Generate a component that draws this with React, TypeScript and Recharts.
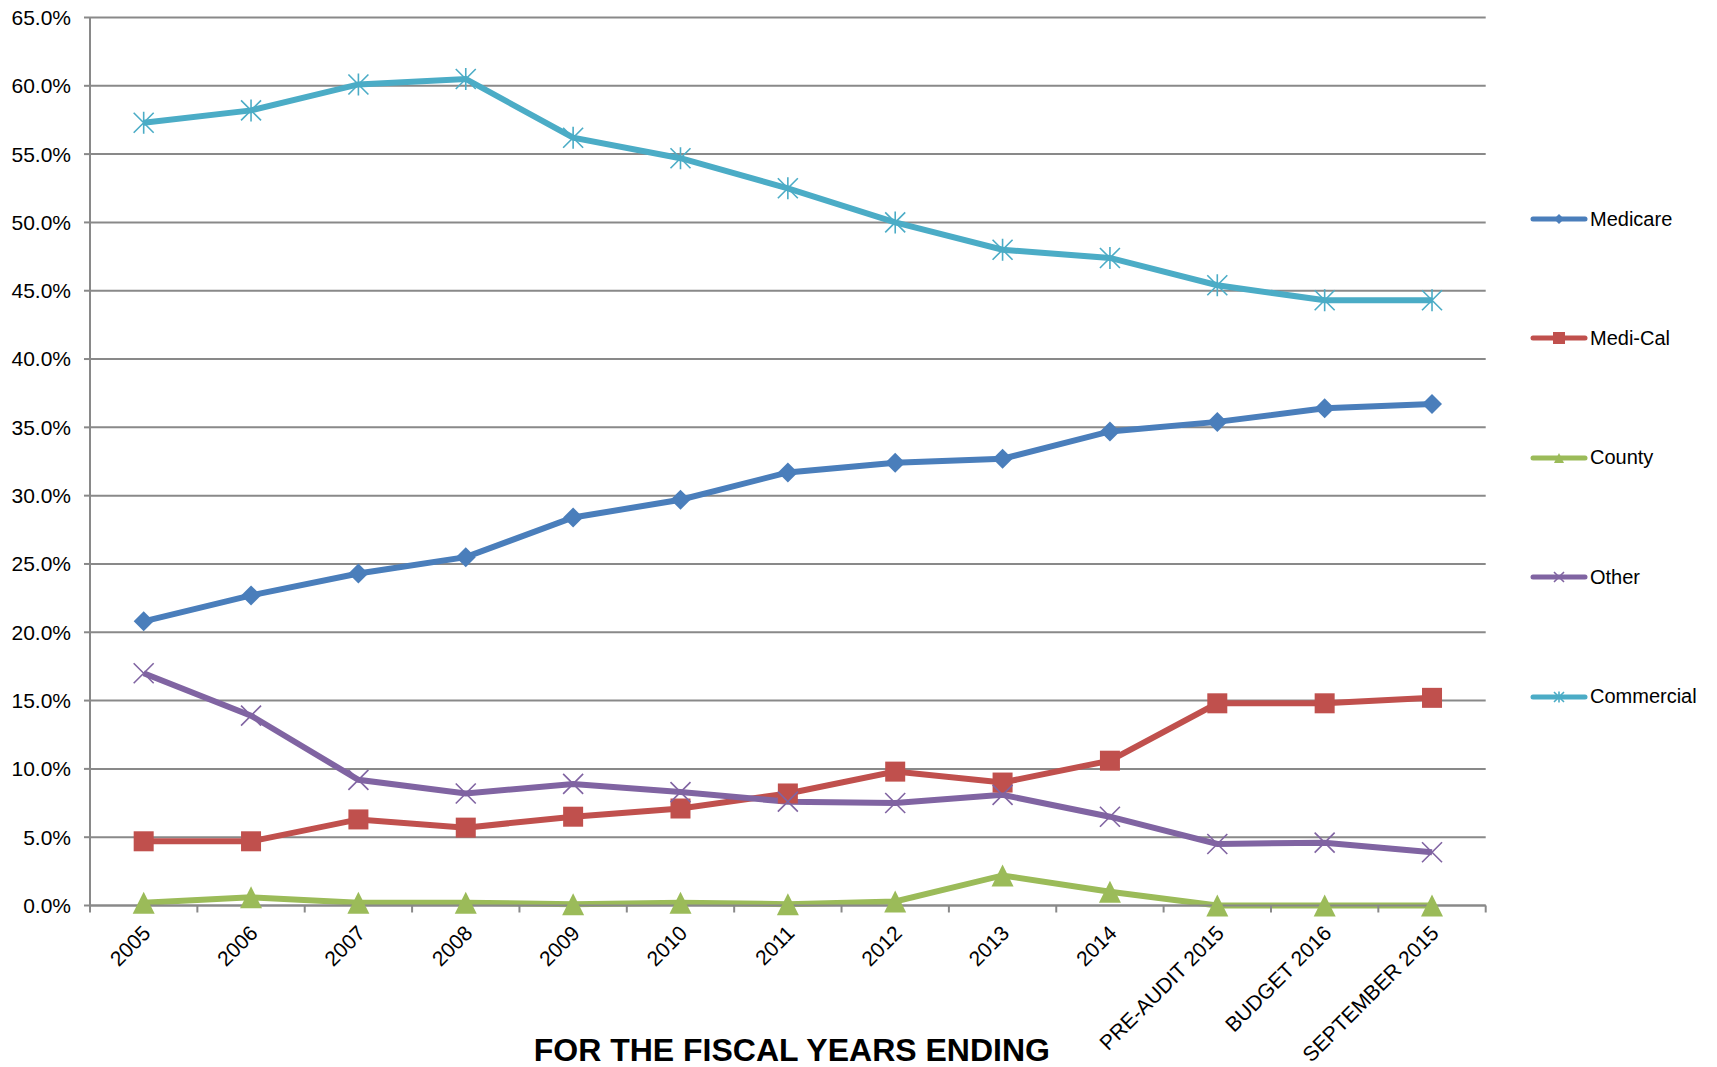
import React from "react";
import { LineChart, Line, XAxis, YAxis, CartesianGrid } from "recharts";

const CATEGORIES = [
  "2005", "2006", "2007", "2008", "2009", "2010", "2011", "2012", "2013", "2014",
  "PRE-AUDIT 2015", "BUDGET 2016", "SEPTEMBER 2015",
];

const MEDICARE = [20.8, 22.7, 24.3, 25.5, 28.4, 29.7, 31.7, 32.4, 32.7, 34.7, 35.4, 36.4, 36.7];
const MEDI_CAL = [4.7, 4.7, 6.3, 5.7, 6.5, 7.1, 8.2, 9.8, 9.0, 10.6, 14.8, 14.8, 15.2];
const COUNTY = [0.2, 0.6, 0.2, 0.2, 0.1, 0.2, 0.1, 0.3, 2.2, 1.0, 0.0, 0.0, 0.0];
const OTHER = [17.0, 13.9, 9.2, 8.2, 8.9, 8.3, 7.6, 7.5, 8.1, 6.5, 4.5, 4.6, 3.9];
const COMMERCIAL = [57.3, 58.2, 60.1, 60.5, 56.2, 54.7, 52.5, 50.0, 48.0, 47.4, 45.4, 44.3, 44.3];

const Y_TICKS = [0, 5, 10, 15, 20, 25, 30, 35, 40, 45, 50, 55, 60, 65];

const AXIS_GRAY = "#898989";
const FONT = "'Liberation Sans', Arial, sans-serif";

type Marker = "diamond" | "square" | "triangle" | "x" | "star";

const SERIES: { key: string; name: string; color: string; marker: Marker; values: number[] }[] = [
  { key: "medicare", name: "Medicare", color: "#4A7EBB", marker: "diamond", values: MEDICARE },
  { key: "medical", name: "Medi-Cal", color: "#C0504D", marker: "square", values: MEDI_CAL },
  { key: "county", name: "County", color: "#9BBB59", marker: "triangle", values: COUNTY },
  { key: "other", name: "Other", color: "#8064A2", marker: "x", values: OTHER },
  { key: "commercial", name: "Commercial", color: "#4BACC6", marker: "star", values: COMMERCIAL },
];

const rows = CATEGORIES.map((cat, i) => {
  const row: Record<string, any> = { idx: i, cat };
  SERIES.forEach((s) => (row[s.key] = s.values[i]));
  return row;
});

// integer ticks carry labels, half ticks are the tick marks between categories
const X_TICKS = [-0.5, ...CATEGORIES.flatMap((_, i) => [i, i + 0.5])];

function markerShape(marker: Marker, cx: number, cy: number, r: number, color: string, key?: string) {
  switch (marker) {
    case "diamond":
      return <path key={key} d={`M${cx},${cy - r}L${cx + r},${cy}L${cx},${cy + r}L${cx - r},${cy}Z`} fill={color} />;
    case "square":
      return <rect key={key} x={cx - r} y={cy - r} width={2 * r} height={2 * r} fill={color} />;
    case "triangle":
      return <path key={key} d={`M${cx},${cy - r}L${cx + r},${cy + r}L${cx - r},${cy + r}Z`} fill={color} />;
    case "x":
      return (
        <path key={key} d={`M${cx - r},${cy - r}L${cx + r},${cy + r}M${cx + r},${cy - r}L${cx - r},${cy + r}`}
          stroke={color} strokeWidth={1.6} fill="none" />
      );
    default:
      return (
        <path key={key}
          d={`M${cx - r},${cy - r}L${cx + r},${cy + r}M${cx + r},${cy - r}L${cx - r},${cy + r}M${cx},${cy - r * 1.1}L${cx},${cy + r * 1.1}`}
          stroke={color} strokeWidth={1.6} fill="none" />
      );
  }
}

const DOT_SIZE: Record<Marker, number> = { diamond: 10, square: 10, triangle: 11, x: 10, star: 10 };

function CategoryTick(props: any) {
  const { x, y, payload } = props;
  const v = payload.value as number;
  if (!Number.isInteger(v)) {
    return <line x1={x} y1={y} x2={x} y2={y + 7} stroke={AXIS_GRAY} strokeWidth={2} />;
  }
  const ax = x + 8;
  const ay = y + 29;
  return (
    <text x={ax} y={ay} textAnchor="end" transform={`rotate(-45 ${ax} ${ay})`} fontSize={21} fill="#000">
      {CATEGORIES[v]}
    </text>
  );
}

function ChartLegend() {
  return (
    <div style={{ position: "absolute", left: 1530, top: 207, fontFamily: FONT }}>
      {SERIES.map((s) => (
        <div key={s.key} style={{ display: "flex", alignItems: "center", height: 24, marginBottom: 95.4 }}>
          <svg width={58} height={24}>
            <line x1={3} y1={12} x2={55} y2={12} stroke={s.color} strokeWidth={5} strokeLinecap="round" />
            {markerShape(s.marker, 29, 12, s.marker === "square" ? 6 : 5, s.color)}
          </svg>
          <span style={{ fontSize: 20, color: "#000", marginLeft: 2 }}>{s.name}</span>
        </div>
      ))}
    </div>
  );
}

export default function App() {
  return (
    <div style={{ position: "relative", width: 1717, height: 1067, fontFamily: FONT, background: "#fff" }}>
      <style>{`body{margin:0}`}</style>
      <LineChart width={1717} height={1067} data={rows} margin={{ top: 17.5, right: 231.3, left: 0, bottom: 0 }}>
        <CartesianGrid vertical={false} stroke={AXIS_GRAY} strokeWidth={2} />
        <XAxis
          dataKey="idx"
          type="number"
          domain={[-0.5, CATEGORIES.length - 0.5]}
          ticks={X_TICKS}
          interval={0}
          tick={CategoryTick}
          tickLine={false}
          tickSize={0}
          tickMargin={0}
          axisLine={{ stroke: AXIS_GRAY, strokeWidth: 2 }}
          height={161.5}
          label={{
            value: "FOR THE FISCAL YEARS ENDING",
            position: "insideBottom",
            offset: 6,
            dx: 4,
            style: { fontSize: 32, fontWeight: "bold", fill: "#000", fontFamily: FONT },
          }}
        />
        <YAxis
          type="number"
          domain={[0, 65]}
          ticks={Y_TICKS}
          interval={0}
          width={90}
          tickFormatter={(v: number) => `${v.toFixed(1)}%`}
          tick={{ fontSize: 21, fill: "#000" }}
          tickSize={6}
          tickMargin={13}
          tickLine={{ stroke: AXIS_GRAY, strokeWidth: 2 }}
          axisLine={{ stroke: AXIS_GRAY, strokeWidth: 2 }}
        />
        {SERIES.map((s) => (
          <Line
            key={s.key}
            dataKey={s.key}
            name={s.name}
            stroke={s.color}
            strokeWidth={6}
            isAnimationActive={false}
            activeDot={false}
            dot={(p: any) => markerShape(s.marker, p.cx, p.cy, DOT_SIZE[s.marker], s.color, `${s.key}-${p.index}`)}
          />
        ))}
      </LineChart>
      <ChartLegend />
    </div>
  );
}
